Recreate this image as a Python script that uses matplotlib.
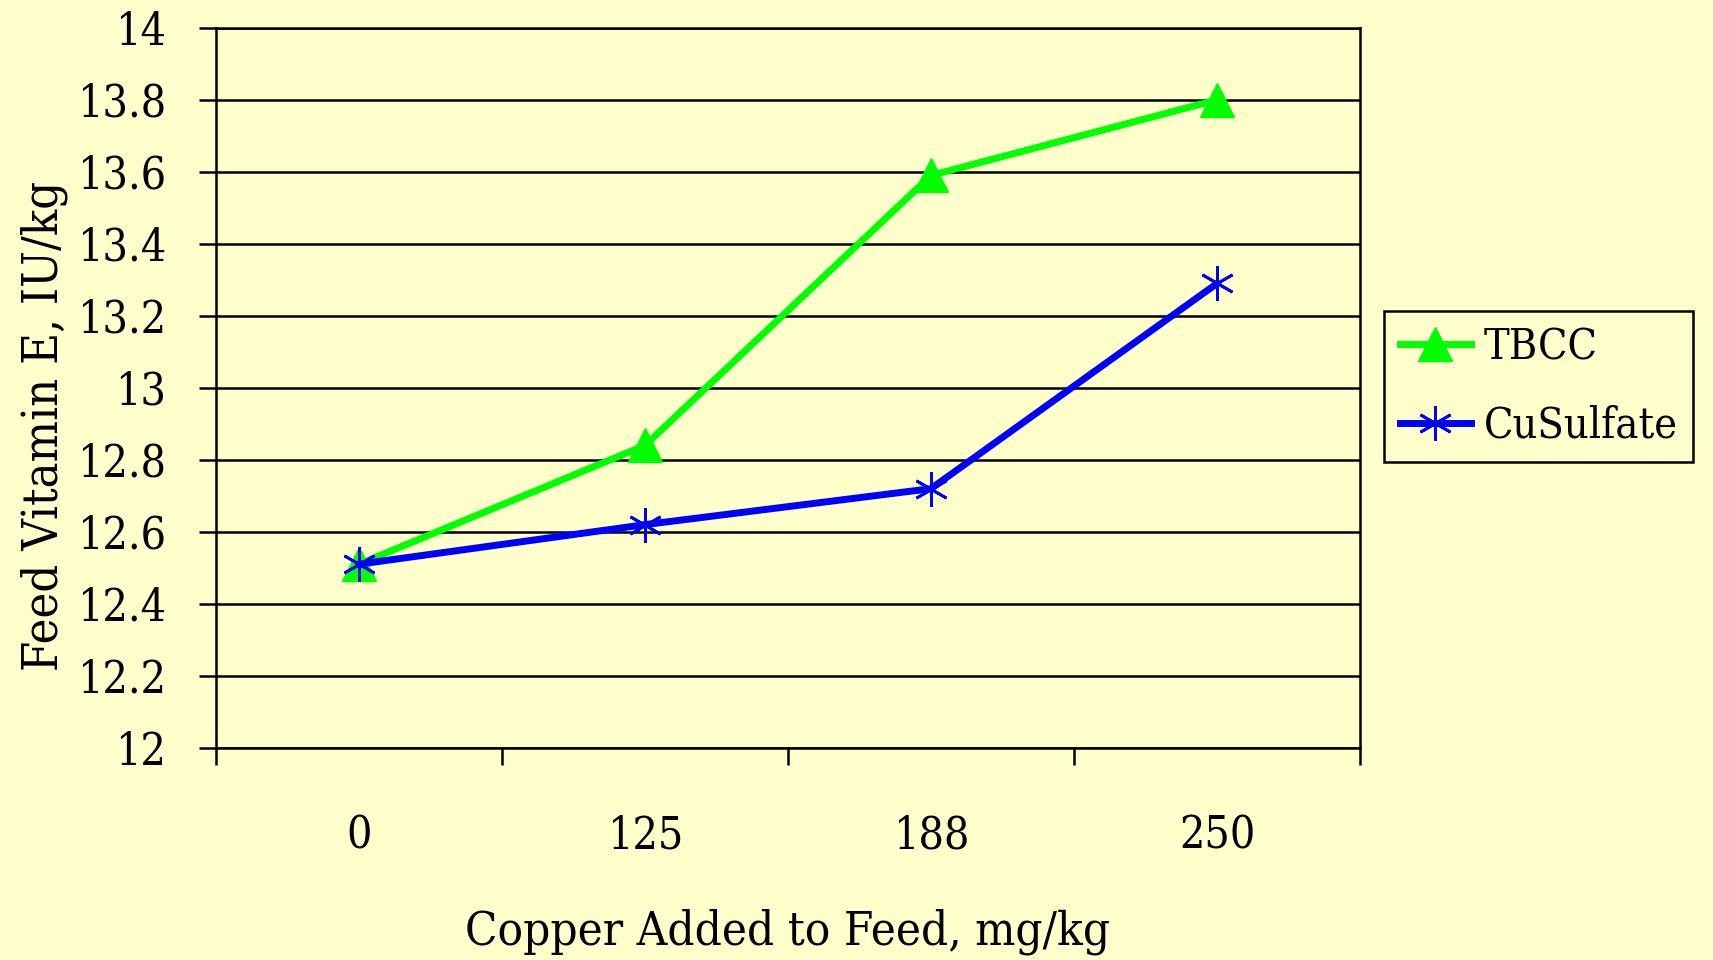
import matplotlib
matplotlib.use("Agg")
import matplotlib.pyplot as plt
import numpy as np

# data
doses = ["0", "125", "188", "250"]
tbcc = [12.51, 12.84, 13.59, 13.80]
cu_sulfate = [12.51, 12.62, 12.72, 13.29]
y_ticks = [12, 12.2, 12.4, 12.6, 12.8, 13, 13.2, 13.4, 13.6, 13.8, 14]
y_tick_labels = ["12", "12.2", "12.4", "12.6", "12.8", "13", "13.2", "13.4", "13.6", "13.8", "14"]

BG = "#FFFFCC"
plt.rcParams["font.family"] = ["DejaVu Serif", "DejaVu Sans"]
plt.rcParams["font.stretch"] = "condensed"

fig = plt.figure(figsize=(17.13, 9.6), dpi=100, facecolor=BG)
ax = fig.add_axes([0.126, 0.221, 0.668, 0.750], facecolor=BG)

x = np.arange(len(doses))
ax.plot(x, tbcc, color="#00FF00", lw=5, marker="^", ms=25,
        mec="#00FF00", label="TBCC", zorder=3)
ax.plot(x, cu_sulfate, color="#0000FF", lw=5, marker=(6, 2, 0), ms=25,
        mew=2, mec="#0000FF", label="CuSulfate", zorder=4)

ax.set_xlim(-0.5, len(doses) - 0.5)
ax.set_ylim(12, 14)
ax.set_yticks(y_ticks)
ax.set_yticklabels(y_tick_labels)
ax.yaxis.grid(True, color="black", lw=1.8)
ax.set_axisbelow(True)

ax.set_xticks(x)
ax.set_xticklabels(doses)
ax.set_xticks(np.arange(-0.5, len(doses)), minor=True)
ax.tick_params(axis="x", which="major", length=0, pad=48, labelsize=32)
ax.tick_params(axis="x", which="minor", length=12, width=1.8, direction="out")
ax.tick_params(axis="y", length=12, width=1.8, pad=24, labelsize=32)

for sp in ax.spines.values():
    sp.set_color("black")
    sp.set_linewidth(1.8)

ax.set_xlabel("Copper Added to Feed, mg/kg", fontsize=34, va="center")
ax.xaxis.set_label_coords(0.5, -0.255)
ax.set_ylabel("Feed Vitamin E, IU/kg", fontsize=35, va="center")
ax.yaxis.set_label_coords(-0.150, 0.447)

leg = fig.legend(loc="upper left", bbox_to_anchor=(0.808, 0.676), fontsize=31,
                 frameon=True, fancybox=False, edgecolor="black",
                 facecolor=BG, handlelength=1.65, borderpad=0.36,
                 labelspacing=0.84, handletextpad=0.3, borderaxespad=0)
leg.get_frame().set_linewidth(1.8)
leg.get_frame().set_alpha(1)

fig.savefig("out.png", dpi=100, facecolor=BG)
